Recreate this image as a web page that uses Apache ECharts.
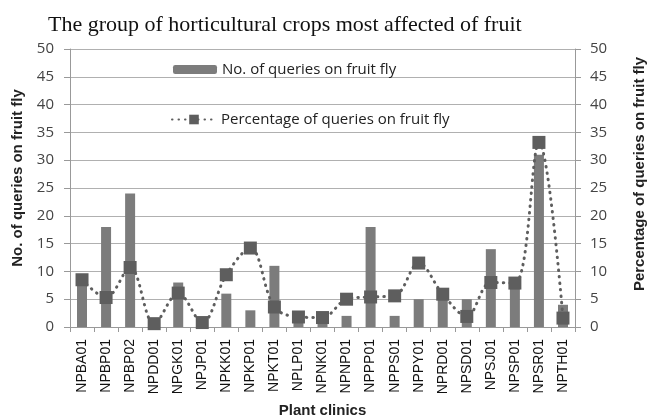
<!DOCTYPE html>
<html>
<head>
<meta charset="utf-8">
<script src="https://cdn.jsdelivr.net/npm/echarts@6/dist/echarts.min.js"></script>
<style>
  html, body { margin: 0; padding: 0; background: #fff; }
  #chart { width: 649px; height: 419px; }
</style>
</head>
<body>
<div id="chart"></div>
<script>
// plant clinic codes
var clinics = ["NPBA01", "NPBP01", "NPBP02", "NPDD01", "NPGK01", "NPJP01", "NPKK01",
  "NPKP01", "NPKT01", "NPLP01", "NPNK01", "NPNP01", "NPPP01", "NPPS01", "NPPY01",
  "NPRD01", "NPSD01", "NPSJ01", "NPSP01", "NPSR01", "NPTH01"];
// bars - number of queries
var queries = [9, 18, 24, 1, 8, 1, 6, 3, 11, 1, 1, 2, 18, 2, 5, 6, 5, 14, 8, 31, 4];
// dotted line - percentage
var percent = [8.5, 5.3, 10.7, 0.6, 6.1, 0.8, 9.4, 14.2, 3.6, 1.8, 1.7, 5.0, 5.4, 5.6,
  11.5, 5.9, 1.9, 8.0, 7.9, 33.2, 1.6];

var barName = "No. of queries on fruit fly";
var lineName = "Percentage of queries on fruit fly";

var chart = echarts.init(document.getElementById("chart"));

var yLabel = { fontFamily: "Open Sans", fontSize: 15, color: "#444" };

chart.setOption({
  animation: false,
  title: {
    text: "The group of horticultural crops most affected of fruit",
    left: 43,
    top: 9,
    textStyle: { fontFamily: "Liberation Serif", fontSize: 22, fontWeight: "normal", color: "#111" }
  },
  legend: [
    {
      data: [barName],
      left: 168, top: 57,
      itemWidth: 44, itemHeight: 9, itemGap: 5,
      textStyle: { fontFamily: "Open Sans", fontSize: 15, color: "#222" }
    },
    {
      data: [lineName],
      left: 166, top: 107,
      itemWidth: 44, itemHeight: 12,
      textStyle: { fontFamily: "Open Sans", fontSize: 15, color: "#222" }
    }
  ],
  grid: { left: 70, right: 74, top: 49, bottom: 92, outerBoundsMode: "none" },
  xAxis: {
    type: "category",
    data: clinics,
    name: "Plant clinics",
    nameLocation: "middle",
    nameGap: 76,
    nameTextStyle: { fontFamily: "Liberation Sans", fontSize: 15, fontWeight: "bold", color: "#222" },
    axisLine: { lineStyle: { color: "#999" } },
    axisTick: { show: true, length: 5, lineStyle: { color: "#999" } },
    axisLabel: {
      rotate: 90, interval: 0, margin: 12,
      fontFamily: "Liberation Sans", fontSize: 14, color: "#111"
    }
  },
  yAxis: [
    {
      type: "value", min: 0, max: 50, interval: 5,
      name: barName,
      nameLocation: "middle",
      nameGap: 45,
      nameTextStyle: {
        fontFamily: "Liberation Sans", fontSize: 15, fontWeight: "bold", color: "#222",
        padding: [0, 0, 0, 20]
      },
      axisLine: { show: true, lineStyle: { color: "#999" } },
      axisTick: { show: true, length: 6, lineStyle: { color: "#999" } },
      axisLabel: Object.assign({ margin: 16 }, yLabel),
      splitLine: { lineStyle: { color: "#b0b0b0", width: 1 } }
    },
    {
      type: "value", min: 0, max: 50, interval: 5,
      name: lineName,
      nameLocation: "middle",
      nameGap: 57,
      nameRotate: 90,
      nameTextStyle: {
        fontFamily: "Liberation Sans", fontSize: 15, fontWeight: "bold", color: "#222",
        padding: [0, 0, 0, 28]
      },
      axisLine: { show: true, lineStyle: { color: "#999" } },
      axisTick: { show: true, length: 6, lineStyle: { color: "#999" } },
      axisLabel: Object.assign({ margin: 15 }, yLabel),
      splitLine: { show: false }
    }
  ],
  series: [
    {
      name: barName,
      type: "bar",
      data: queries,
      barWidth: 10,
      itemStyle: { color: "#7c7c7c" }
    },
    {
      name: lineName,
      type: "line",
      yAxisIndex: 1,
      data: percent,
      smooth: 0.35,
      symbol: "rect",
      symbolSize: 13,
      itemStyle: { color: "#5e5e5e" },
      lineStyle: { color: "#5e5e5e", width: 3, type: [0.5, 6], cap: "round" }
    }
  ]
});
</script>
</body>
</html>
